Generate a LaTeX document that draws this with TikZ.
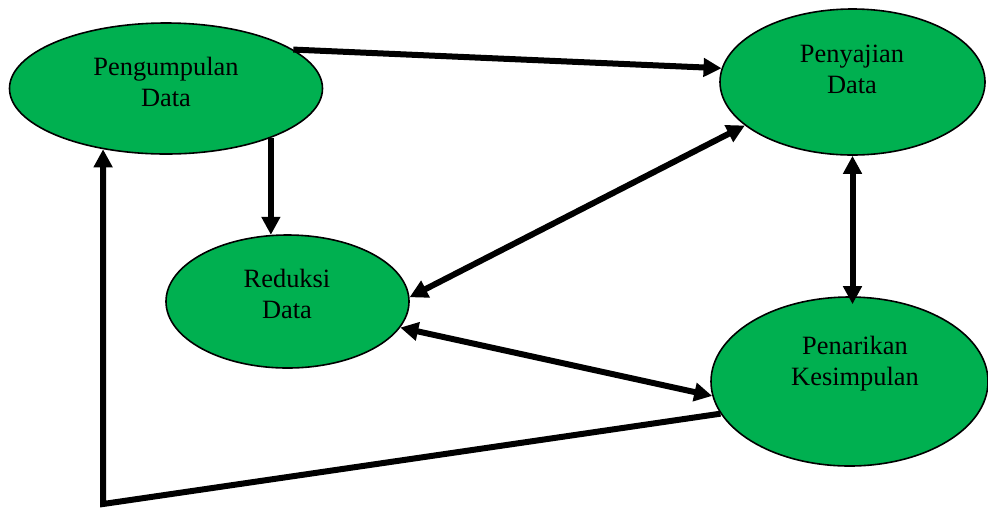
\documentclass[tikz,border=0pt]{standalone}
\usepackage{fontspec}
\setmainfont{Liberation Serif}
\usetikzlibrary{shapes.geometric,arrows.meta}
\definecolor{stagegreen}{RGB}{0,176,80}
\begin{document}
\begin{tikzpicture}[x=0.5pt,y=-0.5pt]
  \tikzstyle{stage}=[ellipse, draw, line width=0.8pt, fill=stagegreen, inner sep=0pt]
  \tikzstyle{stagetext}=[align=center, inner sep=0pt, font=\fontsize{13.2}{15.5}\selectfont]
  \tikzstyle{arr}=[line width=3pt, -{Triangle[length=9pt,width=9pt]}]
  \tikzstyle{dbl}=[line width=3pt, {Triangle[length=9pt,width=9pt]}-{Triangle[length=9pt,width=9pt]}]

  \useasboundingbox (0,0) rectangle (988,510);

  \node[stage, minimum width=156.5pt, minimum height=65.5pt] (pd) at (166, 88.5)   {};
  \node[stage, minimum width=132.5pt, minimum height=73pt]   (sd) at (852.5, 82)   {};
  \node[stage, minimum width=121.5pt, minimum height=66.5pt] (rd) at (287.5, 301.5) {};
  \node[stage, minimum width=138.5pt, minimum height=84.5pt] (pk) at (849.5, 381.5) {};

  \node[stagetext] (pd-t) at (166, 82)    {Pengumpulan\\Data};
  \node[stagetext] (sd-t) at (852, 69)    {Penyajian\\Data};
  \node[stagetext] (rd-t) at (287, 294)   {Reduksi\\Data};
  \node[stagetext] (pk-t) at (855, 364)   {Penarikan\\Kesimpulan};

  \coordinate (bend) at (pd.224 |- 0,504);

  \path[arr] (pd.17) edge (sd.174);
  \path[arr] (rd.104 |- pd.-25) edge (rd.104);
  \path[dbl] (sd.202) edge (rd.2);
  \path[dbl] (sd.south) edge[shorten >=-4pt] (sd.south |- pk.north);
  \path[dbl] (rd.-13) edge (pk.186);
  \draw[arr] (pk.194) -- (bend) -- (pd.224);
\end{tikzpicture}
\end{document}
